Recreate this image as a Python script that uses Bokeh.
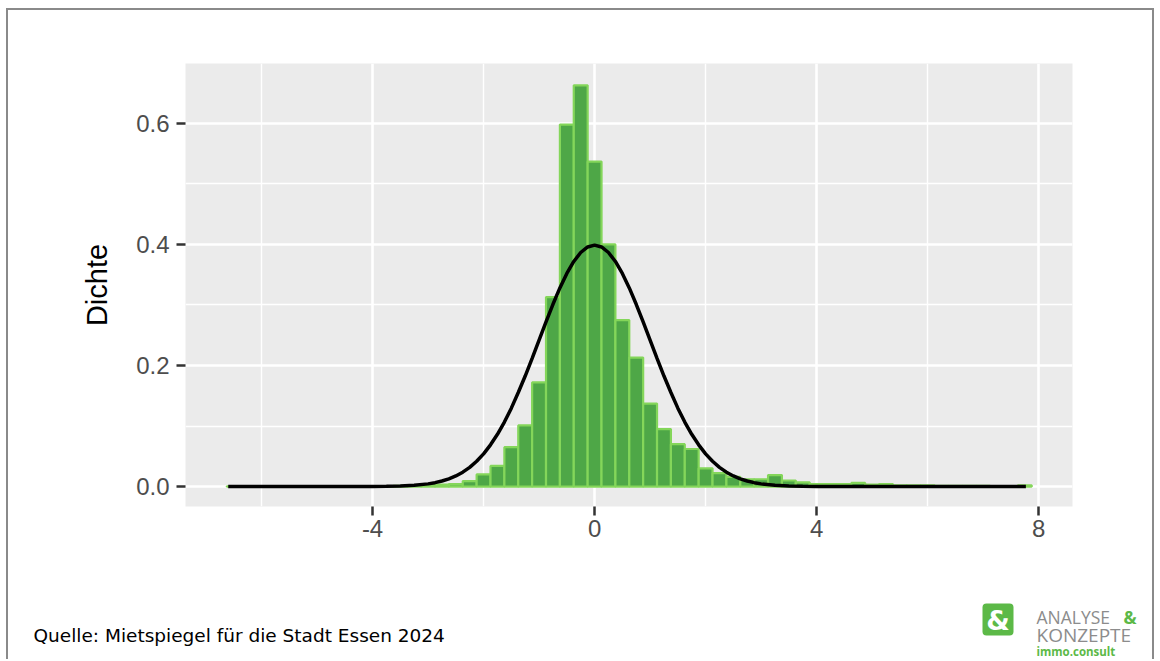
from bokeh.plotting import figure
from bokeh.models import FixedTicker, Range1d, PrintfTickFormatter, Label, BoxAnnotation
from bokeh.layouts import column, row
from bokeh.embed import file_html
from bokeh.resources import INLINE

# ---- data ----
bin_width = 0.25
bin_centers = [-6.5, -6.25, -6.0, -5.75, -5.5, -5.25, -5.0, -4.75, -4.5, -4.25, -4.0,
               -3.75, -3.5, -3.25, -3.0, -2.75, -2.5, -2.25, -2.0, -1.75, -1.5, -1.25,
               -1.0, -0.75, -0.5, -0.25,
               0.0, 0.25, 0.5, 0.75, 1.0, 1.25, 1.5, 1.75, 2.0, 2.25, 2.5, 2.75, 3.0,
               3.25, 3.5, 3.75, 4.0, 4.25, 4.5, 4.75, 5.0, 5.25, 5.5, 5.75, 6.0, 6.25,
               6.5, 6.75, 7.0, 7.25, 7.5, 7.75]
density = [0.0003, 0.0, 0.0, 0.0, 0.0, 0.0, 0.0, 0.0003, 0.0, 0.0003, 0.0003,
           0.0005, 0.001, 0.002, 0.003, 0.003, 0.004, 0.009, 0.020, 0.034, 0.065, 0.101,
           0.172, 0.313, 0.598, 0.663,
           0.537, 0.400, 0.275, 0.213, 0.137, 0.095, 0.070, 0.062, 0.030, 0.022, 0.016,
           0.012, 0.012, 0.019, 0.010, 0.007, 0.004, 0.004, 0.004, 0.006, 0.003, 0.004,
           0.002, 0.002, 0.002, 0.001, 0.001, 0.001, 0.001, 0.0005, 0.0005, 0.002]

curve_x = [-6.6, -5.0, -4.0, -3.75, -3.5, -3.25, -3.0, -2.875, -2.75, -2.625, -2.5,
           -2.375, -2.25, -2.125, -2.0, -1.875, -1.75, -1.625, -1.5, -1.375, -1.25,
           -1.125, -1.0, -0.875, -0.75, -0.625, -0.5, -0.375, -0.25, -0.125, 0.0,
           0.125, 0.25, 0.375, 0.5, 0.625, 0.75, 0.875, 1.0, 1.125, 1.25, 1.375, 1.5,
           1.625, 1.75, 1.875, 2.0, 2.125, 2.25, 2.375, 2.5, 2.625, 2.75, 2.875, 3.0,
           3.25, 3.5, 3.75, 4.0, 5.0, 7.77]
curve_y = [0.0, 0.0, 0.0001, 0.0004, 0.0009, 0.002, 0.0044, 0.0064, 0.0091, 0.0127,
           0.0175, 0.0237, 0.0317, 0.0417, 0.054, 0.0689, 0.0863, 0.1065, 0.1295,
           0.1553, 0.1826, 0.2119, 0.242, 0.2721, 0.3011, 0.3282, 0.3521, 0.3719,
           0.3867, 0.3958, 0.3989,
           0.3958, 0.3867, 0.3719, 0.3521, 0.3282, 0.3011, 0.2721, 0.242, 0.2119,
           0.1826, 0.1553, 0.1295, 0.1065, 0.0863, 0.0689, 0.054, 0.0417, 0.0317,
           0.0237, 0.0175, 0.0127, 0.0091, 0.0064, 0.0044, 0.002, 0.0009, 0.0004,
           0.0001, 0.0, 0.0]

x_ticks = [-4, 0, 4, 8]
x_minor = [-6, -2, 2, 6]
y_ticks = [0.0, 0.2, 0.4, 0.6]
y_minor = [0.1, 0.3, 0.5]
y_label = "Dichte"
caption = "Quelle: Mietspiegel für die Stadt Essen 2024"

assert len(bin_centers) == len(density)
assert len(curve_x) == len(curve_y)

BORDER = "2px solid #8a8a8a"
W = 1148
MBL, MBR = 177, 84

p = figure(width=W, height=545, output_backend="svg", toolbar_location=None,
           x_range=Range1d(-7.37, 8.61), y_range=Range1d(-0.033, 0.699),
           min_border_left=MBL, min_border_right=MBR, min_border_top=53,
           min_border_bottom=49)
p.styles = {"border-top": BORDER, "border-left": BORDER, "border-right": BORDER}
p.background_fill_color = "#EBEBEB"
p.border_fill_color = "white"
p.outline_line_color = None

p.vbar(x=bin_centers, top=density, bottom=0, width=bin_width,
       fill_color="#4ea747", line_color="#84d65a", line_width=2.2)
p.line(curve_x, curve_y, line_color="black", line_width=3.5)

xa = p.xaxis[0]
ya = p.yaxis[0]
xa.ticker = FixedTicker(ticks=x_ticks, minor_ticks=x_minor)
ya.ticker = FixedTicker(ticks=y_ticks, minor_ticks=y_minor)
xa.major_label_overrides = {t: str(t) for t in x_ticks}
ya.formatter = PrintfTickFormatter(format="%.1f")

for g in (p.xgrid[0], p.ygrid[0]):
    g.grid_line_color = "white"
    g.grid_line_width = 2.6
    g.minor_grid_line_color = "white"
    g.minor_grid_line_width = 1.4

for ax in (xa, ya):
    ax.axis_line_color = None
    ax.major_tick_line_color = "#333333"
    ax.major_tick_line_width = 2.5
    ax.major_tick_out = 9
    ax.major_tick_in = 0
    ax.minor_tick_line_color = None
    ax.major_label_text_font = "Liberation Sans"
    ax.major_label_text_font_size = "24px"
    ax.major_label_text_color = "#4D4D4D"

xa.major_label_standoff = 4
ya.major_label_standoff = 7
ya.axis_label = y_label
ya.axis_label_text_font = "Liberation Sans"
ya.axis_label_text_font_size = "29px"
ya.axis_label_text_font_style = "normal"
ya.axis_label_text_color = "black"
ya.axis_label_standoff = 20

# ---- footer: caption and logo (pixel coordinates of the canvas, y from top) ----
FH = 106
f = figure(width=W, height=FH, output_backend="svg", toolbar_location=None,
           x_range=Range1d(0, W), y_range=Range1d(FH, 0),
           min_border=0, x_axis_type=None, y_axis_type=None)
f.styles = {"border-left": BORDER, "border-right": BORDER}
f.grid.visible = False
f.outline_line_color = None
f.background_fill_color = "white"
f.border_fill_color = "white"

f.add_layout(Label(x=25, y=82, text=caption, text_font="DejaVu Sans",
                   text_font_size="18.5px", text_color="black",
                   text_baseline="alphabetic"))
f.add_layout(BoxAnnotation(left=974, right=1005, top=50, bottom=82,
                           fill_color="#5cb947", fill_alpha=1.0, line_color=None,
                           border_radius=4))
f.add_layout(Label(x=989.5, y=67, text="&", text_font="DejaVu Sans",
                   text_font_style="bold", text_font_size="27px", text_color="white",
                   text_align="center", text_baseline="middle"))
f.add_layout(Label(x=1028, y=63, text="ANALYSE", text_font="Open Sans",
                   text_font_size="17.5px", text_color="#8c8c8c",
                   text_baseline="alphabetic"))
f.add_layout(Label(x=1115, y=63, text="&", text_font="Open Sans",
                   text_font_style="bold", text_font_size="17.5px",
                   text_color="#5cb947", text_baseline="alphabetic"))
f.add_layout(Label(x=1028, y=81, text="KONZEPTE", text_font="Open Sans",
                   text_font_size="19px", text_color="#8c8c8c",
                   text_baseline="alphabetic"))
f.add_layout(Label(x=1028, y=98, text="immo.consult", text_font="Open Sans",
                   text_font_style="bold", text_font_size="11.5px",
                   text_color="#5cb947", text_baseline="alphabetic"))

layout = column(p, row(f), spacing=0, margin=(8, 0, 0, 6))
open("out.html", "w").write(file_html(layout, INLINE))
